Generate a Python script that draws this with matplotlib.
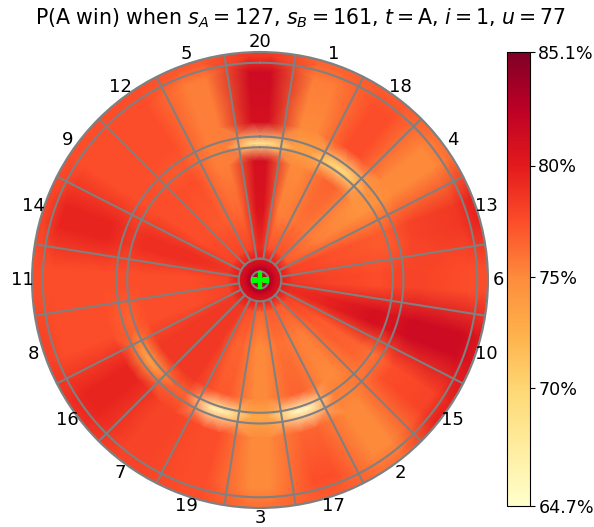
import numpy as np
import matplotlib
matplotlib.use('Agg')
import matplotlib.pyplot as plt

sectors = [20, 1, 18, 4, 13, 6, 10, 15, 2, 17, 3, 19, 7, 16, 8, 11, 14, 9, 12, 5]

center_val = 84.0
bull_val = 82.0
bull_edge_val = 80.0
ring_24 = [79.0, 77.5, 77.5, 77.0, 78.0, 78.5, 79.0, 78.0, 77.0, 77.0, 76.5, 77.5, 78.5, 78.5, 78.0, 78.0, 78.5, 78.0, 78.0, 78.0]
ring_50 = [80.5, 75.5, 76.0, 75.5, 77.5, 78.0, 79.5, 77.0, 75.5, 76.0, 75.0, 76.5, 78.5, 78.5, 77.5, 77.5, 79.0, 77.5, 77.0, 76.5]
ring_85 = [81.0, 75.0, 76.5, 74.5, 77.0, 77.5, 81.0, 76.5, 75.0, 76.5, 75.0, 77.0, 78.5, 78.5, 77.5, 77.5, 79.0, 77.5, 77.5, 75.5]
ring_102 = [68.5, 73.5, 69.5, 74.5, 77.0, 78.0, 80.5, 76.0, 75.5, 65.5, 73.0, 66.5, 76.5, 73.5, 76.5, 77.5, 78.5, 77.5, 77.0, 75.5]
ring_122 = [81.0, 75.0, 77.5, 75.0, 78.0, 78.0, 81.5, 77.5, 75.0, 76.5, 75.0, 77.5, 78.0, 79.5, 77.5, 77.5, 79.5, 77.5, 77.5, 75.5]
ring_155 = [81.5, 75.5, 77.5, 75.0, 78.5, 77.5, 81.5, 78.0, 75.0, 77.5, 75.0, 77.5, 78.0, 79.5, 77.5, 77.5, 79.5, 77.5, 77.5, 75.5]
ring_167 = [78.5, 76.5, 77.0, 76.0, 79.5, 77.5, 80.5, 79.5, 76.0, 77.0, 76.0, 77.5, 78.0, 79.0, 78.0, 77.5, 78.0, 77.5, 77.5, 77.0]

vmin = 64.7
vmax = 85.1
cbar_ticks = [64.7, 70, 75, 80, 85.1]
cbar_labels = ['64.7%', '70%', '75%', '80%', '85.1%']

rows = [np.full(20, center_val), np.full(20, bull_val), np.full(20, bull_edge_val),
        ring_24, ring_50, ring_85, ring_102, ring_122, ring_155, ring_167, ring_167]
r_knots = [0, 10, 16, 24, 50, 89, 102, 118, 155, 167, 175]

# each sector holds its value over +-3 deg, the renderer blends the gaps
centers = np.arange(20) * 18.0
theta = np.deg2rad(np.append(np.column_stack([centers - 3, centers + 3]).ravel(), 357))
Z = np.array([np.append(np.repeat(row, 2), row[0]) for row in rows])

W, H = 594, 527
fig = plt.figure(figsize=(W / 100, H / 100), dpi=100)
ax = fig.add_axes([32 / W, 1 - 508 / H, 456 / W, 456 / H], projection='polar')
ax.set_theta_zero_location('N')
ax.set_theta_direction(-1)

T, R = np.meshgrid(theta, r_knots)
mesh = ax.pcolormesh(T, R, Z, shading='gouraud', cmap='YlOrRd', vmin=vmin, vmax=vmax)

# board wires
circle = np.linspace(0, 2 * np.pi, 361)
for rad in [6.35, 15.9, 99, 107, 162, 170]:
    ax.plot(circle, np.full(361, rad), color='gray', lw=1.5)
for c in centers:
    t = np.deg2rad(c + 9)
    ax.plot([t, t], [15.9, 170], color='gray', lw=1.5)

for c, s in zip(centers, sectors):
    ax.text(np.deg2rad(c), 177.5, str(s), ha='center', va='center', fontsize=13)

ax.plot([0], [0], marker='+', color='lime', ms=13, mew=3.2)

ax.set_ylim(0, 170)
ax.set_xticks([])
ax.set_yticks([])
ax.grid(False)
ax.spines['polar'].set_color('gray')
ax.spines['polar'].set_linewidth(1.5)

cax = fig.add_axes([507 / W, 1 - 506 / H, 23 / W, 454 / H])
cbar = fig.colorbar(mesh, cax=cax)
cbar.set_ticks(cbar_ticks)
cbar.set_ticklabels(cbar_labels)
cbar.ax.tick_params(labelsize=12.6, length=3.5, pad=2.5)

fig.text(300 / W, 1 - 18 / H, r'P(A win) when $s_A = 127$, $s_B = 161$, $t = $A, $i = 1$, $u = 77$',
         ha='center', va='center', fontsize=14.8)

fig.savefig('out.png', dpi=100)
